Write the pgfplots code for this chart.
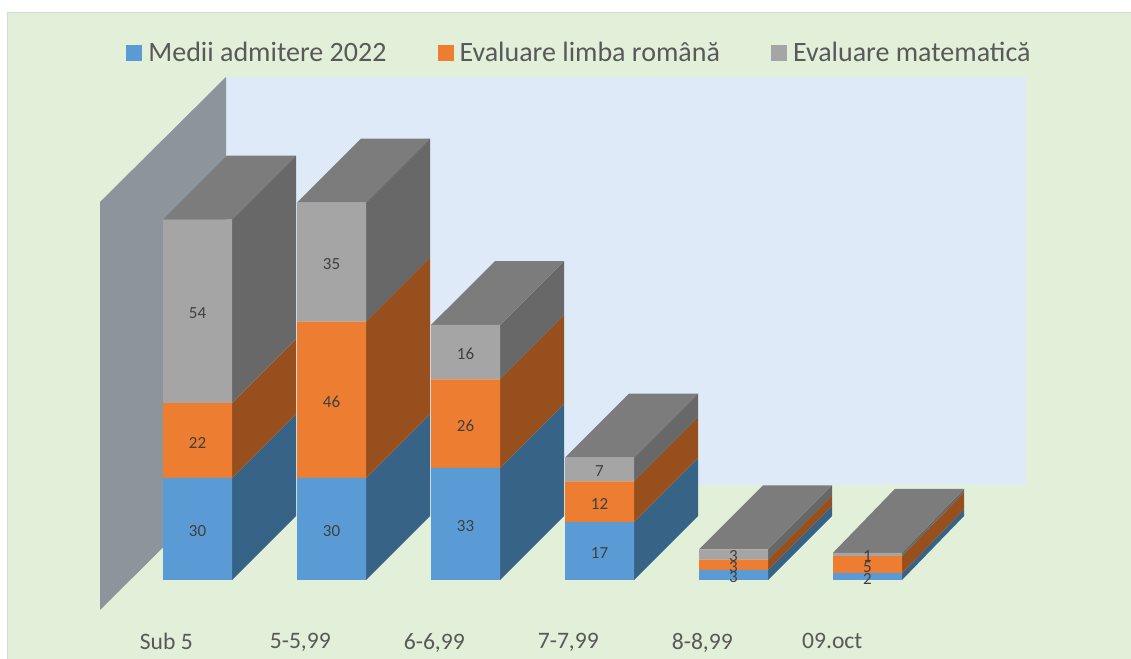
\documentclass[border=0pt]{standalone}
\usepackage{pgfplots}
\usepackage{pgfplotstable}
\usepackage{fontspec}
\setmainfont{Carlito}
\pgfplotsset{compat=1.18}

\definecolor{bgc}{HTML}{E2EFD9}
\definecolor{edgec}{HTML}{D9D9D9}
\definecolor{wallc}{HTML}{DEEAF7}
\definecolor{sidewall}{HTML}{8C949C}
\definecolor{bluec}{HTML}{5B9BD5}
\definecolor{orangec}{HTML}{ED7D31}
\definecolor{grayc}{HTML}{A5A5A5}
\definecolor{bluesd}{HTML}{376387}
\definecolor{orangesd}{HTML}{964F1D}
\definecolor{graysd}{HTML}{686868}
\definecolor{topc}{HTML}{7C7C7C}
\definecolor{txt}{HTML}{595959}
\definecolor{lbl}{HTML}{404040}

\pgfplotstableread{
x medii romana mate
0 30 22 54
1 30 46 35
2 33 26 16
3 17 12 7
4 3 3 3
5 2 5 1
}\admitere

% same pixel mapping for both axes: 134 px per category, 3.4 px per student
\pgfplotsset{base/.style={
  scale only axis,width=565.5pt,height=329.5pt,
  xmin=-1.4739,xmax=6.9664,ymin=-23.235,ymax=170.588,
  ytick=\empty,axis line style={draw=none},tick style={draw=none},
  /pgf/number format/assume math mode=true,
}}

\def\ddx{0.4776}
% side face from lo to hi of bar i
\newcommand{\sideface}[4]{%
  \pgfmathsetmacro{\xa}{#1+0.2575}\pgfmathsetmacro{\xb}{#1+0.2575+\ddx}%
  \pgfmathsetmacro{\ya}{#2+18.82}\pgfmathsetmacro{\yb}{#3+18.82}%
  \edef\tmp{\noexpand\addplot[fill=#4,draw=none,forget plot] coordinates {(\xa,#2) (\xb,\ya) (\xb,\yb) (\xa,#3)};}\tmp}
\newcommand{\topface}[2]{%
  \pgfmathsetmacro{\xa}{#1-0.2575}\pgfmathsetmacro{\xb}{#1+0.2575}%
  \pgfmathsetmacro{\xc}{#1+0.2575+\ddx}\pgfmathsetmacro{\xd}{#1-0.2575+\ddx}%
  \pgfmathsetmacro{\ya}{#2+18.82}%
  \edef\tmp{\noexpand\addplot[fill=topc,draw=none,forget plot] coordinates {(\xa,#2) (\xb,#2) (\xc,\ya) (\xd,\ya)};}\tmp}
\newcommand{\barcube}[4]{%
  \pgfmathsetmacro{\sa}{#2}\pgfmathsetmacro{\sb}{#2+#3}\pgfmathsetmacro{\sc}{#2+#3+#4}%
  \sideface{#1}{0}{\sa}{bluesd}%
  \sideface{#1}{\sa}{\sb}{orangesd}%
  \sideface{#1}{\sb}{\sc}{graysd}%
  \topface{#1}{\sc}}

\begin{document}
\begin{tikzpicture}
\begin{axis}[base,xtick=\empty]
\fill[bgc] (rel axis cs:0.0062,0) rectangle (rel axis cs:1,0.9798);
\fill[edgec] (rel axis cs:0.0062,0) rectangle (rel axis cs:0.0075,0.9813);
\fill[edgec] (rel axis cs:0.0062,0.9798) rectangle (rel axis cs:1,0.9813);
% walls
\addplot[fill=wallc,draw=none] coordinates {(0.2127,27.94) (6.1828,27.94) (6.1828,147.94) (0.2127,147.94)};
\addplot[fill=sidewall,draw=none] coordinates {(-0.7276,-8.82) (0.2127,27.94) (0.2127,147.94) (-0.7276,111.18)};
% bar depth
\barcube{0}{30}{22}{54}
\barcube{1}{30}{46}{35}
\barcube{2}{33}{26}{16}
\barcube{3}{17}{12}{7}
\barcube{4}{3}{3}{3}
\def\ddx{0.4627}
\barcube{5}{2}{5}{1}
\end{axis}

\begin{axis}[base,ybar stacked,bar width=34.5pt,
  xtick={0,1,2,3,4,4.97},xticklabels={Sub 5,{5-5,99},{6-6,99},{7-7,99},{8-8,99},09.oct},
  xticklabel style={font=\fontsize{11.8}{13}\selectfont,text=txt,xshift=-15.6pt,yshift=16.5pt},
  nodes near coords,
  every node near coord/.style={font=\fontsize{8.5}{10}\selectfont,text=lbl,anchor=center,yshift=-1pt},
  legend columns=3,legend cell align=left,
  legend image code/.code={\fill[#1] (0pt,-4pt) rectangle (8pt,4pt);},
  legend style={at={(rel axis cs:0.1114,0.9196)},anchor=west,draw=none,fill=none,
    font=\fontsize{14}{15}\selectfont,text=txt,inner sep=0pt,
    /tikz/every odd column/.append style={column sep=1pt},
    /tikz/every even column/.append style={column sep=23.5pt}},
]
\addplot[fill=bluec,draw=none] table[x=x,y=medii] {\admitere};
\addplot[fill=orangec,draw=none] table[x=x,y=romana] {\admitere};
\addplot[fill=grayc,draw=none] table[x=x,y=mate] {\admitere};
\legend{Medii admitere 2022,Evaluare limba română,Evaluare matematică}
\end{axis}
\end{tikzpicture}
\end{document}
